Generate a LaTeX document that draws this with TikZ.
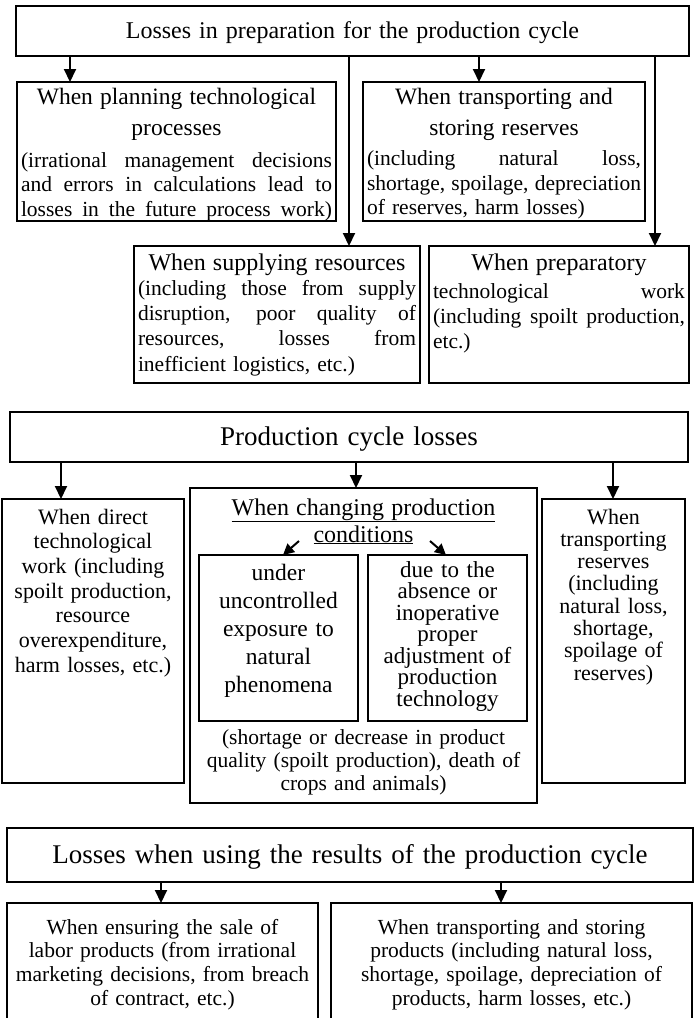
\documentclass[tikz,border=0pt]{standalone}
\usepackage{fontspec}
\setmainfont{Liberation Serif}
\usepackage{tikz}
\usetikzlibrary{calc}
\usetikzlibrary{positioning}
\usetikzlibrary{arrows.meta}

\newcommand{\jline}[1]{\makebox[\linewidth][s]{\spaceskip=0.25em plus 1fil\relax #1}}
\newcommand{\lline}[1]{\makebox[\linewidth][l]{#1}}

\begin{document}
\begin{tikzpicture}[x=1pt, y=-1pt,
        lossbox/.style={draw=black, line width=1.8pt, anchor=north west, align=center, inner xsep=4pt, inner ysep=0pt, outer sep=0pt},
        arr/.style={-{Triangle[width=12pt,length=13pt]}, line width=2pt},
        smallarr/.style={-{Triangle[width=11pt,length=11pt]}, line width=2pt}]
        \useasboundingbox (0,0) rectangle (699,1018);
        \clip (0,0) rectangle (699,1018);

        % preparation
        \node (prep) at (16,6) [lossbox, text width=665pt, text height=32pt, text depth=18pt, font=\fontsize{24}{27}\selectfont] {Losses in preparation for the production cycle};

        \node (plan) at (17,82) [lossbox, text width=311pt, text height=22pt, text depth=117pt, font=\fontsize{21.5}{24.5}\selectfont] {\fontsize{23.5}{31}\selectfont When planning technological\\ processes\\[7.5pt] \fontsize{21.5}{24.5}\selectfont \jline{(irrational management decisions}\\ \jline{and errors in calculations lead to}\\ \jline{losses in the future process work)}};
        \node (trans) at (363,82) [lossbox, text width=274pt, text height=22pt, text depth=117pt, font=\fontsize{21.5}{24.5}\selectfont] {\fontsize{23.5}{31}\selectfont When transporting and\\ storing reserves\\[6pt] \fontsize{21.5}{24.5}\selectfont \jline{(including natural loss,}\\ \jline{shortage, spoilage, depreciation}\\ \lline{of reserves, harm losses)}};
        \node (supply) at (134,246) [lossbox, text width=278pt, text height=24pt, text depth=113pt, font=\fontsize{21.5}{25.3}\selectfont] {\fontsize{24}{26}\selectfont When supplying resources\\ \fontsize{21.5}{25.3}\selectfont \jline{(including those from supply}\\ \jline{disruption, poor quality of}\\ \jline{resources, losses from}\\ \lline{inefficient logistics, etc.)}};
        \node (prepwork) at (429,246) [lossbox, text width=252pt, text height=24pt, text depth=113pt, font=\fontsize{21.5}{25}\selectfont] {\fontsize{24}{26}\selectfont When preparatory\\[3pt] \fontsize{21.5}{25}\selectfont \jline{technological work}\\ \jline{(including spoilt production,}\\ \lline{etc.)}};

        \coordinate (a1) at (70,0);
        \coordinate (a2) at (349,0);
        \coordinate (a3) at (479,0);
        \coordinate (a4) at (655,0);
        \draw[arr] (prep.south -| a1) -- (plan.north -| a1);
        \draw[arr] (prep.south -| a2) -- (supply.north -| a2);
        \draw[arr] (prep.south -| a3) -- (trans.north -| a3);
        \draw[arr] (prep.south -| a4) -- (prepwork.north -| a4);

        % production cycle
        \node (cycle) at (10,412) [lossbox, text width=670pt, text height=33pt, text depth=17pt, font=\fontsize{27}{30}\selectfont] {Production cycle losses};

        \node (direct) at (2,499) [lossbox, text width=174pt, text height=25pt, text depth=259pt, font=\fontsize{22}{24.7}\selectfont] {When direct\\ technological\\ work (including\\ spoilt production,\\ resource\\ overexpenditure,\\ harm losses, etc.)};
        \node (change) at (190,488) [lossbox, text width=339pt, text height=27pt, text depth=288pt, font=\fontsize{21.5}{23}\selectfont] {\fontsize{24}{27}\selectfont \underline{When changing production}\\ \underline{conditions}\\[179pt] \fontsize{21.5}{23}\selectfont (shortage or decrease in product\\ quality (spoilt production), death of\\ crops and animals)};
        \node (nature) at (199,555) [lossbox, text width=151pt, text height=25pt, text depth=141pt, font=\fontsize{23.5}{28}\selectfont] {under\\ uncontrolled\\ exposure to\\ natural\\ phenomena};
        \node (adjust) at (368,555) [lossbox, text width=151pt, text height=22pt, text depth=144pt, font=\fontsize{23}{21.5}\selectfont] {due to the\\ absence or\\ inoperative\\ proper\\ adjustment of\\ production\\ technology};
        \node (reserves) at (542,499) [lossbox, text width=135pt, text height=25pt, text depth=259pt, font=\fontsize{22}{22.3}\selectfont] {When\\ transporting\\ reserves\\ (including\\ natural loss,\\ shortage,\\ spoilage of\\ reserves)};

        \coordinate (b1) at (61,0);
        \coordinate (b2) at (356,0);
        \coordinate (b3) at (613,0);
        \draw[arr] (cycle.south -| b1) -- (direct.north -| b1);
        \draw[arr] (cycle.south -| b2) -- (change.north -| b2);
        \draw[arr] (cycle.south -| b3) -- (reserves.north -| b3);

        \coordinate (s1) at (299,541);
        \coordinate (s2) at (430,541);
        \coordinate (e1) at (283,0);
        \coordinate (e2) at (446,0);
        \draw[smallarr] (s1) -- (nature.north -| e1);
        \draw[smallarr] (s2) -- (adjust.north -| e2);

        % using the results
        \node (results) at (7,828) [lossbox, text width=678pt, text height=35pt, text depth=19pt, font=\fontsize{27}{30}\selectfont] {Losses when using the results of the production cycle};

        \node (sale) at (7,903) [lossbox, text width=303pt, text height=31pt, text depth=94pt, font=\fontsize{21.5}{23.7}\selectfont] {When ensuring the sale of\\ labor products (from irrational\\ marketing decisions, from breach\\ of contract, etc.)};
        \node (storage) at (331,903) [lossbox, text width=353pt, text height=31pt, text depth=94pt, font=\fontsize{21.5}{23.7}\selectfont] {When transporting and storing\\ products (including natural loss,\\ shortage, spoilage, depreciation of\\ products, harm losses, etc.)};

        \coordinate (c1) at (161,0);
        \coordinate (c2) at (501,0);
        \draw[arr] (results.south -| c1) -- (sale.north -| c1);
        \draw[arr] (results.south -| c2) -- (storage.north -| c2);
    \end{tikzpicture}
\end{document}
